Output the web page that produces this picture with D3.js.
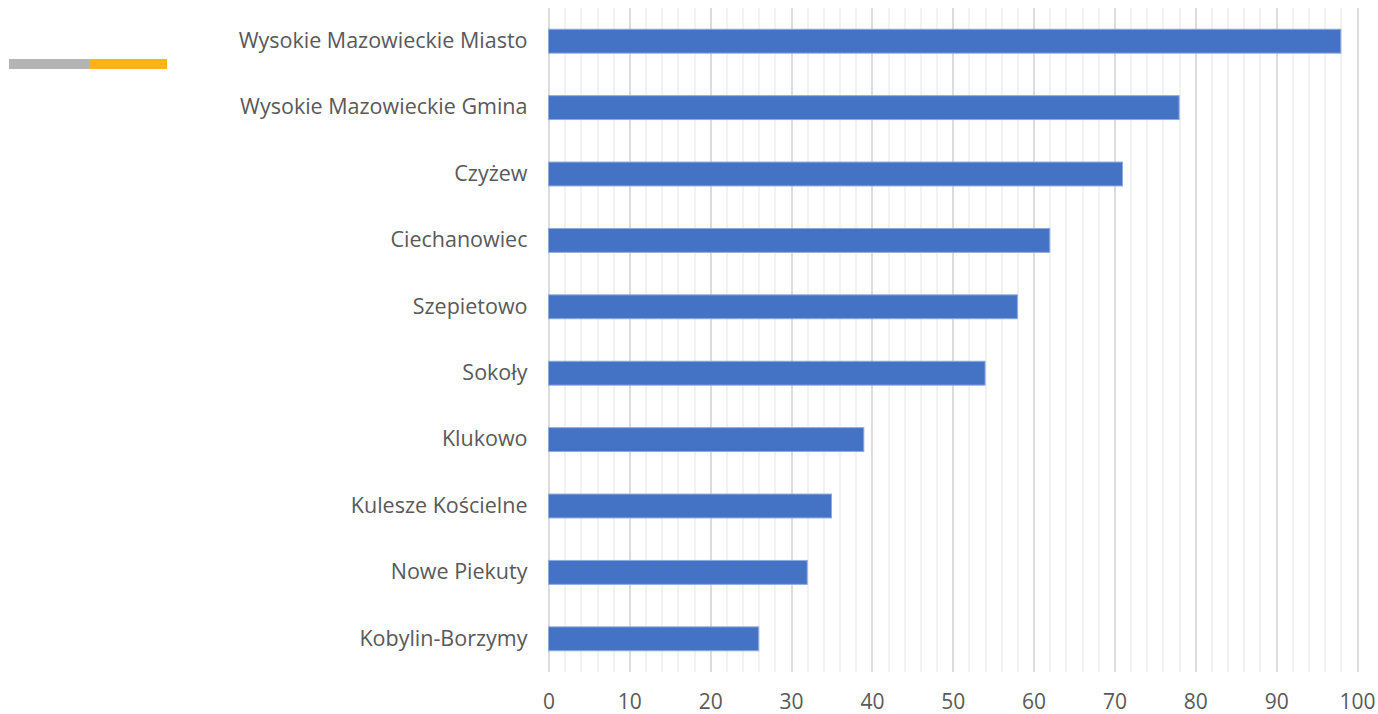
<!DOCTYPE html>
<html>
<head>
<meta charset="utf-8">
<script src="https://cdn.jsdelivr.net/npm/d3@7"></script>
<style>
  body { margin: 0; background: #fff; }
  text { font-family: "Open Sans", "Liberation Sans", sans-serif; fill: #595959; }
</style>
</head>
<body>
<div id="chart"></div>
<script>
// data
var gminy = ['Wysokie Mazowieckie Miasto', 'Wysokie Mazowieckie Gmina', 'Czyżew', 'Ciechanowiec',
             'Szepietowo', 'Sokoły', 'Klukowo', 'Kulesze Kościelne', 'Nowe Piekuty', 'Kobylin-Borzymy'];
var wartosci = [98, 78, 71, 62, 58, 54, 39, 35, 32, 26];
var xTicks = [0, 10, 20, 30, 40, 50, 60, 70, 80, 90, 100];
var legendColors = ['#b4b4b4', '#fbb317'];

var width = 1378, height = 714;
var margin = { top: 8, right: 21, bottom: 42, left: 548.5 };
var plotW = width - margin.left - margin.right,
    plotH = height - margin.top - margin.bottom;

var svg = d3.select('#chart').append('svg')
  .attr('width', width)
  .attr('height', height);

var xScale = d3.scaleLinear().domain([0, 100]).range([0, plotW]);
var yScale = d3.scaleBand().domain(gminy).range([0, plotH])
  .paddingInner(0.64).paddingOuter(0.32);

var g = svg.append('g')
  .attr('transform', 'translate(' + margin.left + ',' + margin.top + ')');

// minor gridlines every 2
g.selectAll('line.minor')
  .data(d3.range(0, 101, 2).filter(function(d) { return d % 10 !== 0; }))
  .enter().append('line')
  .attr('class', 'minor')
  .attr('x1', function(d) { return Math.round(xScale(d)) + 0.5; })
  .attr('x2', function(d) { return Math.round(xScale(d)) + 0.5; })
  .attr('y1', 0).attr('y2', plotH)
  .attr('stroke', '#f2f2f2').attr('stroke-width', 2);

// major gridlines
g.selectAll('line.major')
  .data(xTicks)
  .enter().append('line')
  .attr('class', 'major')
  .attr('x1', function(d) { return Math.round(xScale(d)) + 0.5; })
  .attr('x2', function(d) { return Math.round(xScale(d)) + 0.5; })
  .attr('y1', 0).attr('y2', plotH)
  .attr('stroke', '#dcdcdc').attr('stroke-width', 2);

// bars
g.selectAll('rect.bar')
  .data(wartosci)
  .enter().append('rect')
  .attr('class', 'bar')
  .attr('x', xScale(0))
  .attr('y', function(d, i) { return yScale(gminy[i]); })
  .attr('width', function(d) { return xScale(d); })
  .attr('height', yScale.bandwidth())
  .attr('fill', '#4472c4')
  .attr('stroke', '#8faadc')
  .attr('stroke-width', 1);

// x axis
var xAxis = d3.axisBottom(xScale).tickValues(xTicks).tickSize(0).tickPadding(22);
var xg = g.append('g')
  .attr('transform', 'translate(0,' + plotH + ')')
  .call(xAxis);
xg.select('.domain').remove();
xg.selectAll('text').style('font-size', '21px').attr('fill', '#595959');

// y axis labels
var yAxis = d3.axisLeft(yScale).tickSize(0).tickPadding(21);
var yg = g.append('g').call(yAxis);
yg.select('.domain').remove();
yg.selectAll('text').style('font-size', '21.5px').attr('fill', '#595959');

// legend remnant top-left
svg.selectAll('rect.leg')
  .data(legendColors)
  .enter().append('rect')
  .attr('class', 'leg')
  .attr('x', function(d, i) { return 9 + i * 80; })
  .attr('y', 59)
  .attr('width', function(d, i) { return i === 0 ? 80 : 78; })
  .attr('height', 10)
  .attr('fill', function(d) { return d; });
</script>
</body>
</html>
